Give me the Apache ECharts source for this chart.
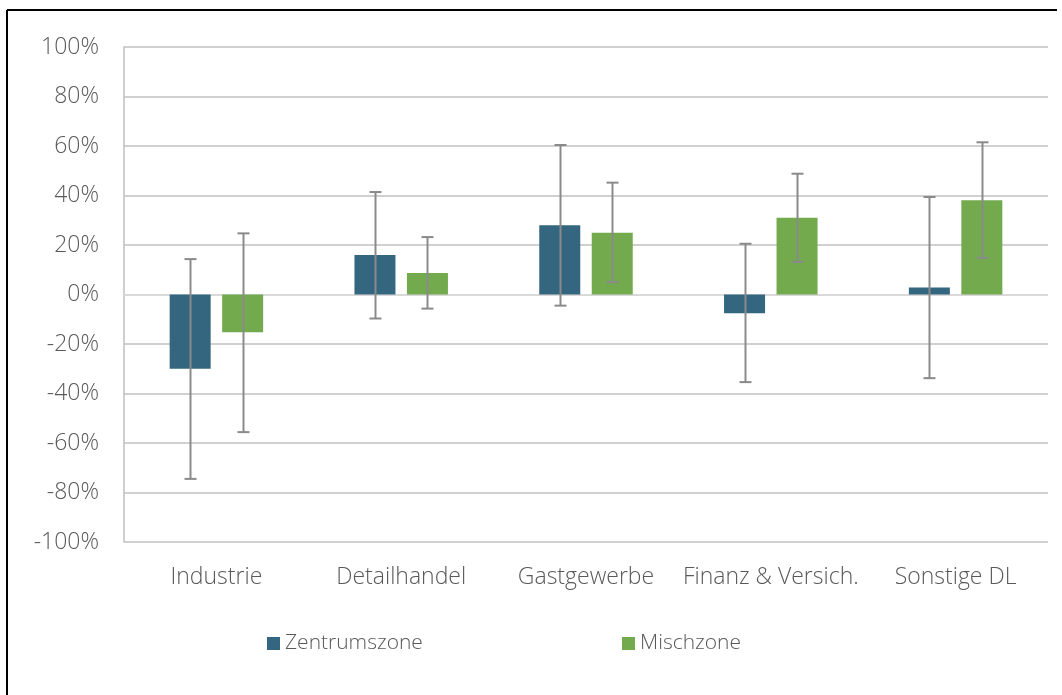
<!DOCTYPE html>
<html>
<head>
<meta charset="utf-8">
<script src="https://cdn.jsdelivr.net/npm/echarts@6/dist/echarts.min.js"></script>
<style>
  html, body { margin: 0; padding: 0; background: #ffffff; }
  #chart { width: 1062px; height: 695px; }
</style>
</head>
<body>
<div id="chart"></div>
<script>
// ---- Data ----
const categories = ['Industrie', 'Detailhandel', 'Gastgewerbe', 'Finanz & Versich.', 'Sonstige DL'];
const seriesNames = ['Zentrumszone', 'Mischzone'];
const zentrumValues = [-0.30, 0.16, 0.28, -0.076, 0.028];
const zentrumLow    = [-0.745, -0.097, -0.045, -0.354, -0.338];
const zentrumHigh   = [0.143, 0.414, 0.604, 0.205, 0.394];
const mischValues   = [-0.153, 0.087, 0.249, 0.310, 0.381];
const mischLow      = [-0.556, -0.057, 0.050, 0.132, 0.148];
const mischHigh     = [0.247, 0.232, 0.452, 0.488, 0.615];
const yTicks = { min: -1, max: 1, interval: 0.2 };

// ---- Styling ----
const FONT = '"Open Sans", "Liberation Sans", sans-serif';
const TEXT_COLOR = '#595959';
const COLORS = ['#346680', '#74aa4e'];
const BAR_WIDTH = 41;
const BAR_GAP = 0.28;
const ERR_COLOR = '#8a8a8a';

const chart = echarts.init(document.getElementById('chart'), null, { renderer: 'canvas' });

function errorSeries(name, low, high, sign) {
  return {
    type: 'custom',
    name: name + ' err',
    z: 10,
    silent: true,
    data: categories.map((c, i) => [i, low[i], high[i]]),
    renderItem: function (params, api) {
      const idx = api.value(0);
      const pLow = api.coord([idx, api.value(1)]);
      const pHigh = api.coord([idx, api.value(2)]);
      const offset = sign * BAR_WIDTH * (1 + BAR_GAP) / 2;
      const x = Math.round(pLow[0] + offset) + 0.5;
      const cap = 6;
      const style = { stroke: ERR_COLOR, lineWidth: 2, fill: null };
      return {
        type: 'group',
        children: [
          { type: 'line', shape: { x1: x, y1: pLow[1], x2: x, y2: pHigh[1] }, style: style },
          { type: 'line', shape: { x1: x - cap, y1: pLow[1], x2: x + cap, y2: pLow[1] }, style: style },
          { type: 'line', shape: { x1: x - cap, y1: pHigh[1], x2: x + cap, y2: pHigh[1] }, style: style }
        ]
      };
    },
    tooltip: { show: false }
  };
}

function legendFor(name, left) {
  return {
    data: [name],
    left: left,
    top: 633,
    padding: 0,
    icon: 'rect',
    itemWidth: 13,
    itemHeight: 13,
    textStyle: { fontFamily: FONT, fontSize: 21, fontWeight: 300, color: TEXT_COLOR }
  };
}

const option = {
  animation: false,
  backgroundColor: '#ffffff',
  textStyle: { fontFamily: FONT },
  graphic: [
    { type: 'line', shape: { x1: 7, y1: 10, x2: 1057, y2: 10 }, style: { stroke: '#000', lineWidth: 2 } },
    { type: 'line', shape: { x1: 7, y1: 10, x2: 7, y2: 700 }, style: { stroke: '#000', lineWidth: 2 } }
  ],
  grid: { left: 124, right: 14, top: 47, bottom: 153, containLabel: false },
  legend: [legendFor(seriesNames[0], 267), legendFor(seriesNames[1], 622)],
  xAxis: {
    type: 'category',
    data: categories,
    axisLine: { show: false, onZero: false },
    axisTick: { show: false },
    axisLabel: { color: TEXT_COLOR, fontFamily: FONT, fontSize: 23, fontWeight: 300, margin: 24, interval: 0 },
    splitLine: { show: false }
  },
  yAxis: {
    type: 'value',
    min: yTicks.min,
    max: yTicks.max,
    interval: yTicks.interval,
    axisLine: { show: true, lineStyle: { color: '#bfbfbf', width: 1.5 } },
    axisTick: { show: false },
    axisLabel: {
      color: TEXT_COLOR, fontFamily: FONT, fontSize: 23, fontWeight: 300, margin: 25,
      formatter: v => Math.round(v * 100) + '%'
    },
    splitLine: { show: true, lineStyle: { color: '#c0c0c0', width: 1.5 } }
  },
  series: [
    {
      name: seriesNames[0],
      type: 'bar',
      data: zentrumValues,
      barWidth: BAR_WIDTH,
      barGap: (BAR_GAP * 100) + '%',
      itemStyle: { color: COLORS[0] },
      markLine: {
        silent: true, symbol: 'none', label: { show: false },
        lineStyle: { color: '#d9d9d9', width: 2, type: 'solid' },
        data: [{ yAxis: 0 }],
        z: 1
      }
    },
    {
      name: seriesNames[1],
      type: 'bar',
      data: mischValues,
      barWidth: BAR_WIDTH,
      barGap: (BAR_GAP * 100) + '%',
      itemStyle: { color: COLORS[1] }
    },
    errorSeries(seriesNames[0], zentrumLow, zentrumHigh, -1),
    errorSeries(seriesNames[1], mischLow, mischHigh, 1)
  ]
};
chart.setOption(option);
</script>
</body>
</html>
